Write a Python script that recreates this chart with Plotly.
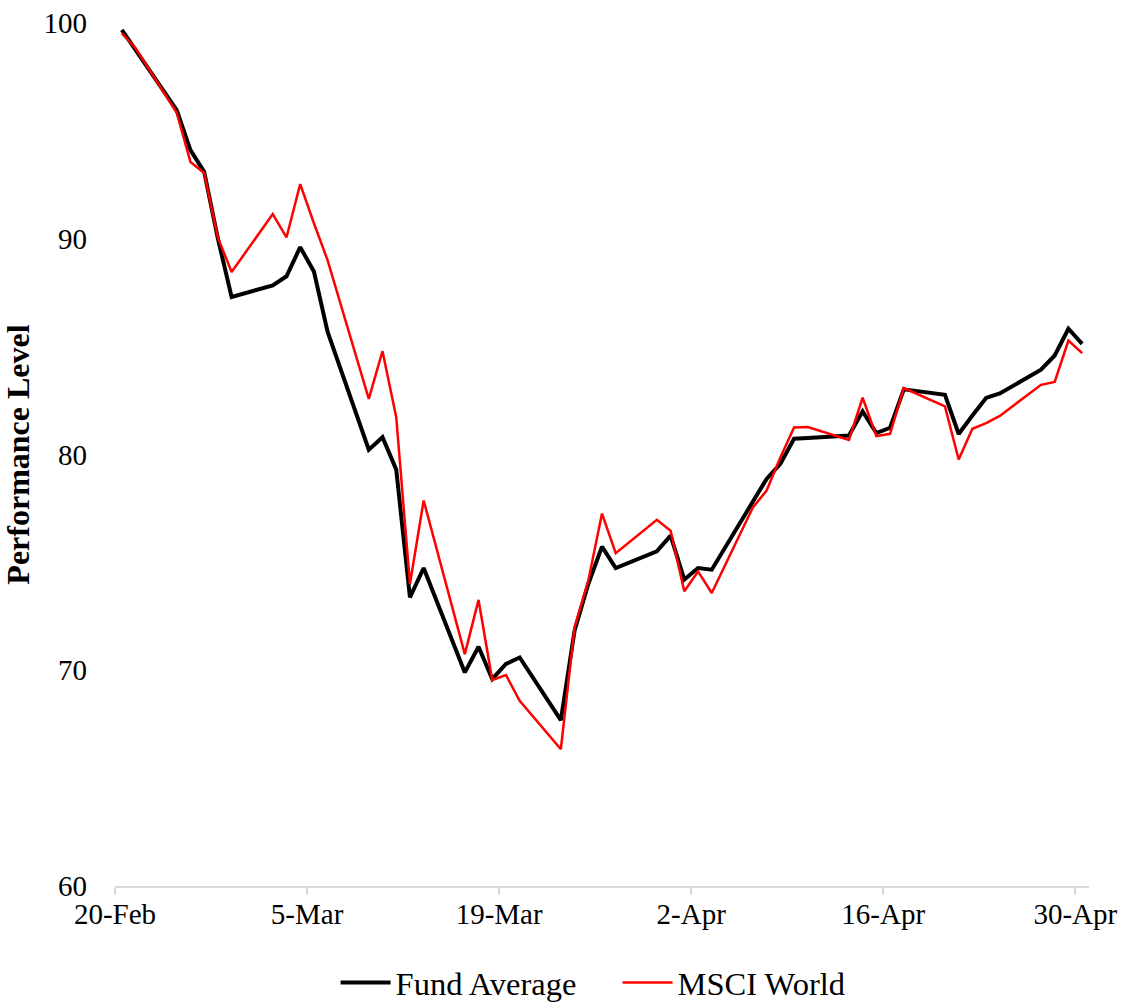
import pandas as pd
import plotly.graph_objects as go

dates = [
    "2020-02-20", "2020-02-21", "2020-02-24", "2020-02-25", "2020-02-26", "2020-02-27", "2020-02-28",
    "2020-03-02", "2020-03-03", "2020-03-04", "2020-03-05", "2020-03-06",
    "2020-03-09", "2020-03-10", "2020-03-11", "2020-03-12", "2020-03-13",
    "2020-03-16", "2020-03-17", "2020-03-18", "2020-03-19", "2020-03-20",
    "2020-03-23", "2020-03-24", "2020-03-25", "2020-03-26", "2020-03-27",
    "2020-03-30", "2020-03-31", "2020-04-01", "2020-04-02", "2020-04-03",
    "2020-04-06", "2020-04-07", "2020-04-08", "2020-04-09", "2020-04-10",
    "2020-04-13", "2020-04-14", "2020-04-15", "2020-04-16", "2020-04-17",
    "2020-04-20", "2020-04-21", "2020-04-22", "2020-04-23", "2020-04-24",
    "2020-04-27", "2020-04-28", "2020-04-29", "2020-04-30",
]

fund_average = [
    99.68, 98.75, 95.96, 94.11, 93.10, 90.01, 87.30,
    87.84, 88.26, 89.61, 88.48, 85.68,
    80.22, 80.80, 79.30, 73.38, 74.74,
    69.90, 71.09, 69.59, 70.29, 70.59,
    67.69, 71.83, 74.00, 75.73, 74.74,
    75.51, 76.24, 74.20, 74.74, 74.66,
    77.87, 78.87, 79.57, 80.73, 80.76,
    80.88, 82.00, 80.99, 81.24, 83.02,
    82.77, 80.95, 81.81, 82.62, 82.83,
    83.93, 84.59, 85.83, 85.13,
]

msci_world = [
    99.52, 98.83, 95.84, 93.56, 93.05, 90.05, 88.46,
    91.14, 90.06, 92.53, 90.72, 89.00,
    82.58, 84.79, 81.73, 74.00, 77.87,
    70.75, 73.26, 69.55, 69.78, 68.58,
    66.34, 71.99, 74.15, 77.26, 75.43,
    76.97, 76.47, 73.66, 74.58, 73.58,
    77.55, 78.33, 79.86, 81.25, 81.27,
    80.68, 82.63, 80.85, 80.96, 83.08,
    82.23, 79.77, 81.19, 81.45, 81.79,
    83.23, 83.36, 85.28, 84.70,
]

series_names = ["Fund Average", "MSCI World"]
y_ticks = [60, 70, 80, 90, 100]

# Excel date axis: each day occupies a slot, points at its centre
x = pd.to_datetime(dates) + pd.Timedelta(hours=12)

fig = go.Figure()
fig.add_trace(go.Scatter(x=x, y=fund_average, mode="lines", name=series_names[0],
                         line=dict(color="#000000", width=4)))
fig.add_trace(go.Scatter(x=x, y=msci_world, mode="lines", name=series_names[1],
                         line=dict(color="#ff0000", width=2.5)))

font_family = "Liberation Serif, Times New Roman, serif"

fig.update_layout(
    width=1135, height=1003,
    margin=dict(l=115, r=46, t=23, b=117, autoexpand=False),
    paper_bgcolor="white", plot_bgcolor="white",
    font=dict(family=font_family, color="#000000", size=29),
    showlegend=True,
    legend=dict(orientation="h", x=0.516, xanchor="center",
                yref="container", y=0.02, yanchor="middle",
                font=dict(size=32.5, family=font_family), itemwidth=50,
                entrywidth=217, entrywidthmode="pixels",
                traceorder="normal"),
    xaxis=dict(
        type="date",
        range=["2020-02-20", "2020-05-01"],
        tick0="2020-02-20", dtick=14 * 86400000,
        tickformat="%-d-%b",
        showgrid=False, zeroline=False,
        showline=True, linecolor="#d9d9d9", linewidth=1.5,
        ticks="outside", tickcolor="#d9d9d9", ticklen=7, tickwidth=1.5,
        ticklabelstandoff=-6,
        tickfont=dict(size=29, family=font_family),
    ),
    yaxis=dict(
        range=[60, 100],
        tickvals=y_ticks,
        showgrid=False, zeroline=False, showline=False,
        ticks="", ticklabelstandoff=27,
        tickfont=dict(size=29, family=font_family),
        title=dict(text="<b>Performance Level</b>", font=dict(size=32, family=font_family),
                   standoff=12),
    ),
)

fig.write_html("out.html")
